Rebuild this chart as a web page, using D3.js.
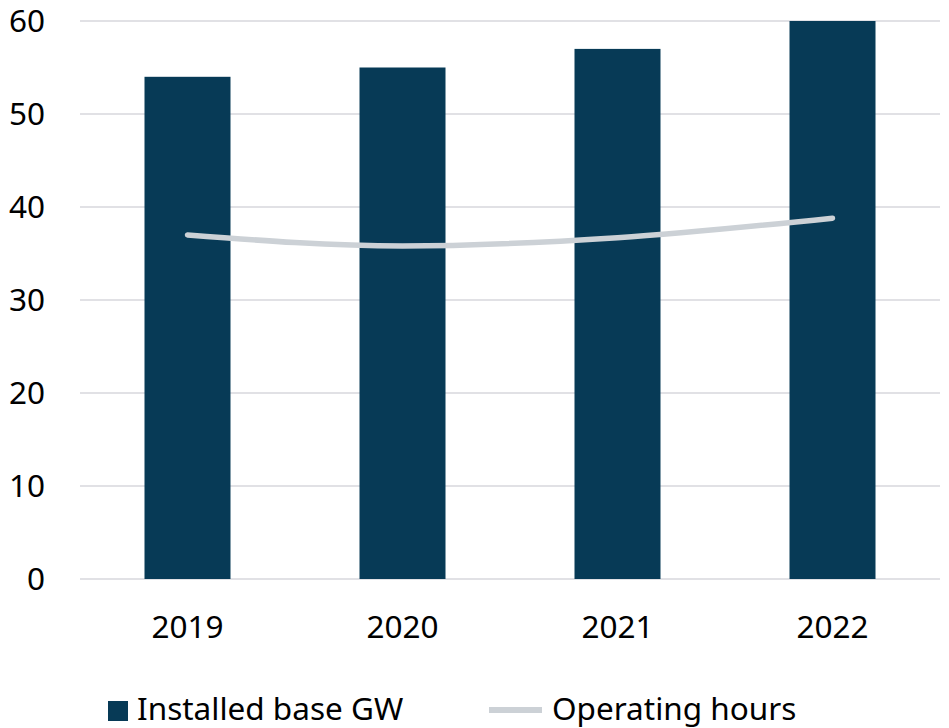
<!DOCTYPE html>
<html>
<head>
<meta charset="utf-8">
<script src="https://cdn.jsdelivr.net/npm/d3@7"></script>
<style>
  html, body { margin: 0; padding: 0; background: #fff; }
  svg { display: block; font-family: "Noto Sans", "Open Sans", sans-serif; }
</style>
</head>
<body>
<svg id="chart" width="949" height="728"></svg>
<script>
// Installed base (GW, bars) and operating hours (line) per year
const years = ["2019", "2020", "2021", "2022"];
const installedBase = [54, 55, 57, 60];
const operatingHours = [37.0, 35.8, 36.7, 38.8];
const yTicks = [0, 10, 20, 30, 40, 50, 60];

const svg = d3.select("#chart");
const margin = { left: 80, right: 9, top: 21, bottom: 149 };
const W = 949, H = 728;
const x = d3.scaleBand().domain(years).range([margin.left, W - margin.right]).paddingInner(0.6).paddingOuter(0.3);
const y = d3.scaleLinear().domain([0, 60]).range([H - margin.bottom, margin.top]);

// Horizontal gridlines
svg.append("g")
  .selectAll("line")
  .data(yTicks)
  .join("line")
  .attr("x1", margin.left).attr("x2", W - margin.right)
  .attr("y1", d => y(d)).attr("y2", d => y(d))
  .attr("stroke", "#c3c3cc").attr("stroke-width", 1.2);

// Y tick labels
svg.append("g")
  .selectAll("text")
  .data(yTicks)
  .join("text")
  .attr("x", 45).attr("y", d => y(d))
  .attr("dy", "0.35em")
  .attr("text-anchor", "end")
  .attr("font-size", 31.5)
  .attr("fill", "#000")
  .text(d => d);

// Bars
svg.append("g")
  .selectAll("rect")
  .data(years)
  .join("rect")
  .attr("x", d => x(d))
  .attr("width", x.bandwidth())
  .attr("y", (d, i) => y(installedBase[i]))
  .attr("height", (d, i) => y(0) - y(installedBase[i]))
  .attr("fill", "#073a56");

// Operating hours line
const line = d3.line()
  .x((d, i) => x(years[i]) + x.bandwidth() / 2)
  .y(d => y(d))
  .curve(d3.curveMonotoneX);
svg.append("path")
  .datum(operatingHours)
  .attr("d", line)
  .attr("fill", "none")
  .attr("stroke", "#ccd1d6")
  .attr("stroke-width", 5.5)
  .attr("stroke-linecap", "round");

// X category labels
svg.append("g")
  .selectAll("text")
  .data(years)
  .join("text")
  .attr("x", d => x(d) + x.bandwidth() / 2)
  .attr("y", 638)
  .attr("text-anchor", "middle")
  .attr("font-size", 31.5)
  .attr("fill", "#000")
  .text(d => d);

// Legend
const legend = svg.append("g");
legend.append("rect").attr("x", 108).attr("y", 701).attr("width", 20).attr("height", 20).attr("fill", "#073a56");
legend.append("text").attr("x", 137).attr("y", 709).attr("dy", "0.35em").attr("font-size", 31.5).text("Installed base GW");
legend.append("line").attr("x1", 489).attr("x2", 542).attr("y1", 710).attr("y2", 710)
  .attr("stroke", "#ccd1d6").attr("stroke-width", 6);
legend.append("text").attr("x", 552).attr("y", 709).attr("dy", "0.35em").attr("font-size", 31.5).text("Operating hours");
</script>
</body>
</html>
